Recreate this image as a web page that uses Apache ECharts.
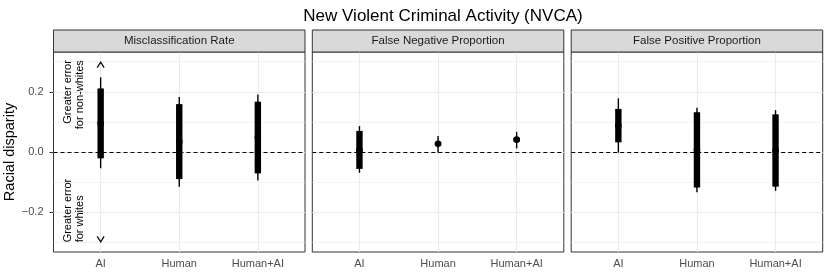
<!DOCTYPE html>
<html>
<head>
<meta charset="utf-8">
<script src="https://cdn.jsdelivr.net/npm/echarts@6/dist/echarts.min.js"></script>
<style>html,body{margin:0;padding:0;background:#fff}#c{width:830px;height:277px}</style>
</head>
<body>
<div id="c"></div>
<script>
// ---- data ----
const categories = ['AI', 'Human', 'Human+AI'];
const panelTitles = ['Misclassification Rate', 'False Negative Proportion', 'False Positive Proportion'];
const yTicks = [-0.2, 0, 0.2];
const yMinor = [-0.3, -0.1, 0.1, 0.3];
// per panel, per category
const outerLow  = [[-0.054, -0.115, -0.095], [-0.069, -0.002, 0.012], [-0.002, -0.134, -0.129]];
const outerHigh = [[ 0.248,  0.183,  0.191], [ 0.086,  0.053, 0.067], [ 0.178,  0.147,  0.139]];
const innerLow  = [[-0.021, -0.090, -0.071], [-0.056,  0.021, 0.035], [ 0.032, -0.118, -0.115]];
const innerHigh = [[ 0.211,  0.159,  0.167], [ 0.070,  0.033, 0.047], [ 0.143,  0.132,  0.125]];
const estimate  = [[ 0.095,  0.035,  0.048], [ 0.007,  0.027, 0.041], [ 0.088,  0.007,  0.005]];
const annoTop = 'Greater error\nfor non-whites';
const annoBottom = 'Greater error\nfor whites';

// ---- layout ----
const FONT = 'Liberation Sans, Arial, sans-serif';
const panelLefts = [53.5, 312.3, 571.2];
const panelW = 251.5, panelTop = 52, panelH = 200;
const yMin = -0.332, yMax = 0.332;

const chart = echarts.init(document.getElementById('c'), null, {renderer: 'canvas'});

const grids = [], xAxes = [], yAxes = [], series = [], graphics = [];
panelTitles.forEach((t, i) => {
  grids.push({left: panelLefts[i], top: panelTop, width: panelW, height: panelH,
    show: true, borderColor: '#333333', borderWidth: 1, backgroundColor: '#fff', containLabel: false, z: 0});
  xAxes.push({type: 'value', gridIndex: i, min: 0.4, max: 3.6,
    axisLine: {show: false}, splitLine: {show: false},
    axisTick: {show: true, customValues: [1, 2, 3], length: 4, lineStyle: {color: '#333333', width: 1}},
    axisLabel: {show: true, customValues: [1, 2, 3], formatter: v => categories[Math.round(v) - 1] || '',
      color: '#4D4D4D', fontSize: 11, fontFamily: FONT, margin: 6}});
  yAxes.push({type: 'value', gridIndex: i, min: yMin, max: yMax,
    name: i === 0 ? 'Racial disparity' : '', nameLocation: 'middle', nameGap: 32,
    nameTextStyle: {color: '#000', fontSize: 14.5, fontFamily: FONT},
    axisLine: {show: false}, splitLine: {show: false},
    axisTick: {show: i === 0, customValues: yTicks, length: 4, lineStyle: {color: '#333333', width: 1}},
    axisLabel: {show: i === 0, customValues: yTicks,
      formatter: v => (v < 0 ? '\u2212' : '') + Math.abs(v).toFixed(1),
      color: '#4D4D4D', fontSize: 11, fontFamily: FONT, margin: 10}});
  // gridlines + zero line
  const ml = [];
  yMinor.forEach(v => ml.push({yAxis: v, lineStyle: {color: '#EBEBEB', width: 0.6, type: 'solid'}}));
  yTicks.forEach(v => ml.push({yAxis: v, lineStyle: {color: '#EBEBEB', width: 1.1, type: 'solid'}}));
  categories.forEach((c, k) => ml.push({xAxis: k + 1, lineStyle: {color: '#EBEBEB', width: 1.1, type: 'solid'}}));
  ml.push({yAxis: 0, lineStyle: {color: '#000', width: 1, type: [4, 3]}});
  series.push({type: 'scatter', xAxisIndex: i, yAxisIndex: i, data: [], z: 1, silent: true,
    markLine: {z: 1, silent: true, symbol: 'none', label: {show: false}, animation: false, data: ml}});
  // intervals
  const data = categories.map((c, k) => [k + 1, outerLow[i][k], outerHigh[i][k], innerLow[i][k], innerHigh[i][k], estimate[i][k]]);
  series.push({type: 'custom', xAxisIndex: i, yAxisIndex: i, z: 10, data: data, silent: true,
    renderItem: (params, api) => {
      const x = api.value(0);
      const oLo = api.coord([x, api.value(1)]), oHi = api.coord([x, api.value(2)]);
      const iLo = api.coord([x, api.value(3)]), iHi = api.coord([x, api.value(4)]);
      const e = api.coord([x, api.value(5)]);
      return {type: 'group', children: [
        {type: 'line', shape: {x1: oLo[0], y1: oLo[1], x2: oHi[0], y2: oHi[1]}, style: {stroke: '#000', lineWidth: 1.4}},
        {type: 'rect', shape: {x: iHi[0] - 3.2, y: iHi[1], width: 6.4, height: iLo[1] - iHi[1]}, style: {fill: '#000', stroke: null}},
        {type: 'circle', shape: {cx: e[0], cy: e[1], r: 3.3}, style: {fill: '#000', stroke: null}}
      ]};
    }});
  // strip
  graphics.push({type: 'rect', shape: {x: panelLefts[i], y: 30, width: panelW, height: 22},
    style: {fill: '#D9D9D9', stroke: '#333333', lineWidth: 1}, z: 5});
  graphics.push({type: 'text', x: panelLefts[i] + panelW / 2, y: 41, z: 6,
    style: {text: t, font: '11.5px ' + FONT, fill: '#1A1A1A', align: 'center', verticalAlign: 'middle'}});
});

chart.setOption({
  animation: false,
  backgroundColor: '#fff',
  title: {text: 'New Violent Criminal Activity (NVCA)', left: 438, top: 3, textAlign: 'center',
    textStyle: {color: '#000', fontSize: 17, fontWeight: 'normal', fontFamily: FONT}},
  grid: grids, xAxis: xAxes, yAxis: yAxes, series: series, graphic: graphics
});

// annotations in panel 1, positioned from data coordinates
const pTop = chart.convertToPixel({gridIndex: 0}, [1, 0.3]);
const pBot = chart.convertToPixel({gridIndex: 0}, [1, -0.3]);
const annoX = pTop[0] - 26.5;
graphics.push({type: 'text', x: annoX, y: pTop[1] - 1.5, rotation: Math.PI / 2, z: 6,
  style: {text: annoTop, font: '11px ' + FONT, fill: '#000', align: 'right', verticalAlign: 'middle', lineHeight: 12}});
graphics.push({type: 'text', x: annoX, y: pBot[1], rotation: Math.PI / 2, z: 6,
  style: {text: annoBottom, font: '11px ' + FONT, fill: '#000', align: 'left', verticalAlign: 'middle', lineHeight: 12}});
graphics.push({type: 'polyline', z: 6, shape: {points: [[pTop[0] - 3.5, pTop[1] + 6], [pTop[0], pTop[1] + 0.5], [pTop[0] + 3.5, pTop[1] + 6]]},
  style: {stroke: '#000', lineWidth: 1.2, fill: null}});
graphics.push({type: 'polyline', z: 6, shape: {points: [[pBot[0] - 3.5, pBot[1] - 6], [pBot[0], pBot[1] - 0.5], [pBot[0] + 3.5, pBot[1] - 6]]},
  style: {stroke: '#000', lineWidth: 1.2, fill: null}});
chart.setOption({graphic: graphics});
</script>
</body>
</html>
